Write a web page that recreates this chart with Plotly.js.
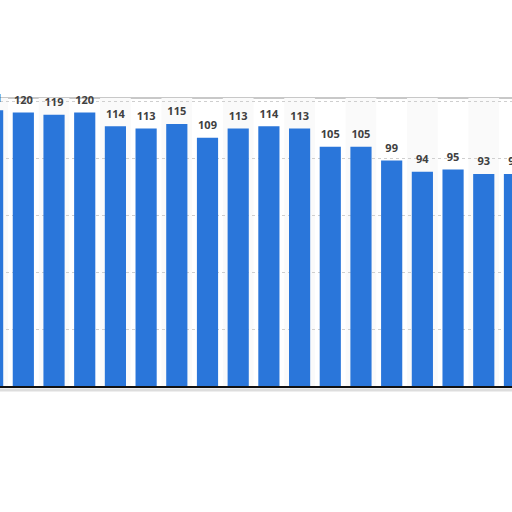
<!DOCTYPE html>
<html>
<head>
<meta charset="utf-8">
<script src="https://cdn.plot.ly/plotly-3.0.1.min.js"></script>
<style>
  html, body { margin: 0; padding: 0; background: #ffffff; }
  #chart { width: 512px; height: 512px; }
</style>
</head>
<body>
<div id="chart"></div>
<script>
// the crop shows 18 bars, the first and last cut by the edges
const categories = ['1', '2', '3', '4', '5', '6', '7', '8', '9', '10', '11', '12', '13', '14', '15', '16', '17', '18'];
const values = [121, 120, 119, 120, 114, 113, 115, 109, 113, 114, 113, 105, 105, 99, 94, 95, 93, 93];
const y_ticks = [0, 25, 50, 75, 100, 125];
const card_top = 126.4;   // where the card's grey edge sits, in value units

const bar_color = '#2a76da';
const label_color = '#404040';

const bars = {
  type: 'bar',
  x: categories,
  y: values,
  marker: { color: bar_color, line: { width: 0 } },
  hoverinfo: 'none',
};

// value labels: invisible markers give the text its gap above the bar top
const labels = {
  type: 'scatter',
  mode: 'markers+text',
  x: categories,
  y: values,
  text: values.map(String),
  textposition: 'top center',
  textfont: { family: 'Open Sans, sans-serif', size: 11, color: label_color, weight: 'bold' },
  marker: { size: 8, color: 'rgba(0,0,0,0)' },
  cliponaxis: true,
  hoverinfo: 'none',
};

// faint alternating column bands behind the bars
const bands = [];
for (let i = 0; i < categories.length; i += 2) {
  bands.push({
    type: 'rect', layer: 'below',
    xref: 'x', yref: 'y',
    x0: i - 0.5, x1: i + 0.5, y0: 0, y1: card_top,
    fillcolor: '#fafafa', line: { width: 0 },
  });
}

// card edges: grey top line and soft shadow under the baseline
const frame = [
  { type: 'line', layer: 'below', xref: 'paper', yref: 'y', x0: 0, x1: 1, y0: card_top, y1: card_top,
    line: { color: '#c8c8c8', width: 2 } },
  { type: 'line', xref: 'paper', yref: 'paper', x0: 0, x1: 1, y0: -0.013, y1: -0.013,
    line: { color: '#dddddd', width: 3 } },
];

const layout = {
  width: 512,
  height: 512,
  margin: { l: 0, r: 0, t: 80, b: 126, pad: 0 },
  paper_bgcolor: '#ffffff',
  plot_bgcolor: '#ffffff',
  showlegend: false,
  bargap: 0.31,
  xaxis: {
    type: 'category',
    range: [0.24, 16.92],
    showticklabels: false,
    showgrid: false,
    zeroline: false,
    showline: true,
    linecolor: '#111111',
    linewidth: 1.5,
    ticks: '',
  },
  yaxis: {
    range: [0, 134.3],
    tickmode: 'array',
    tickvals: y_ticks,
    showticklabels: false,
    showgrid: true,
    gridcolor: '#cfcfcf',
    griddash: 'dot',
    gridwidth: 1,
    zeroline: false,
    showline: false,
    ticks: '',
  },
  shapes: bands.concat(frame),
};

Plotly.newPlot('chart', [bars, labels], layout, { displayModeBar: false, staticPlot: true });
</script>
</body>
</html>
